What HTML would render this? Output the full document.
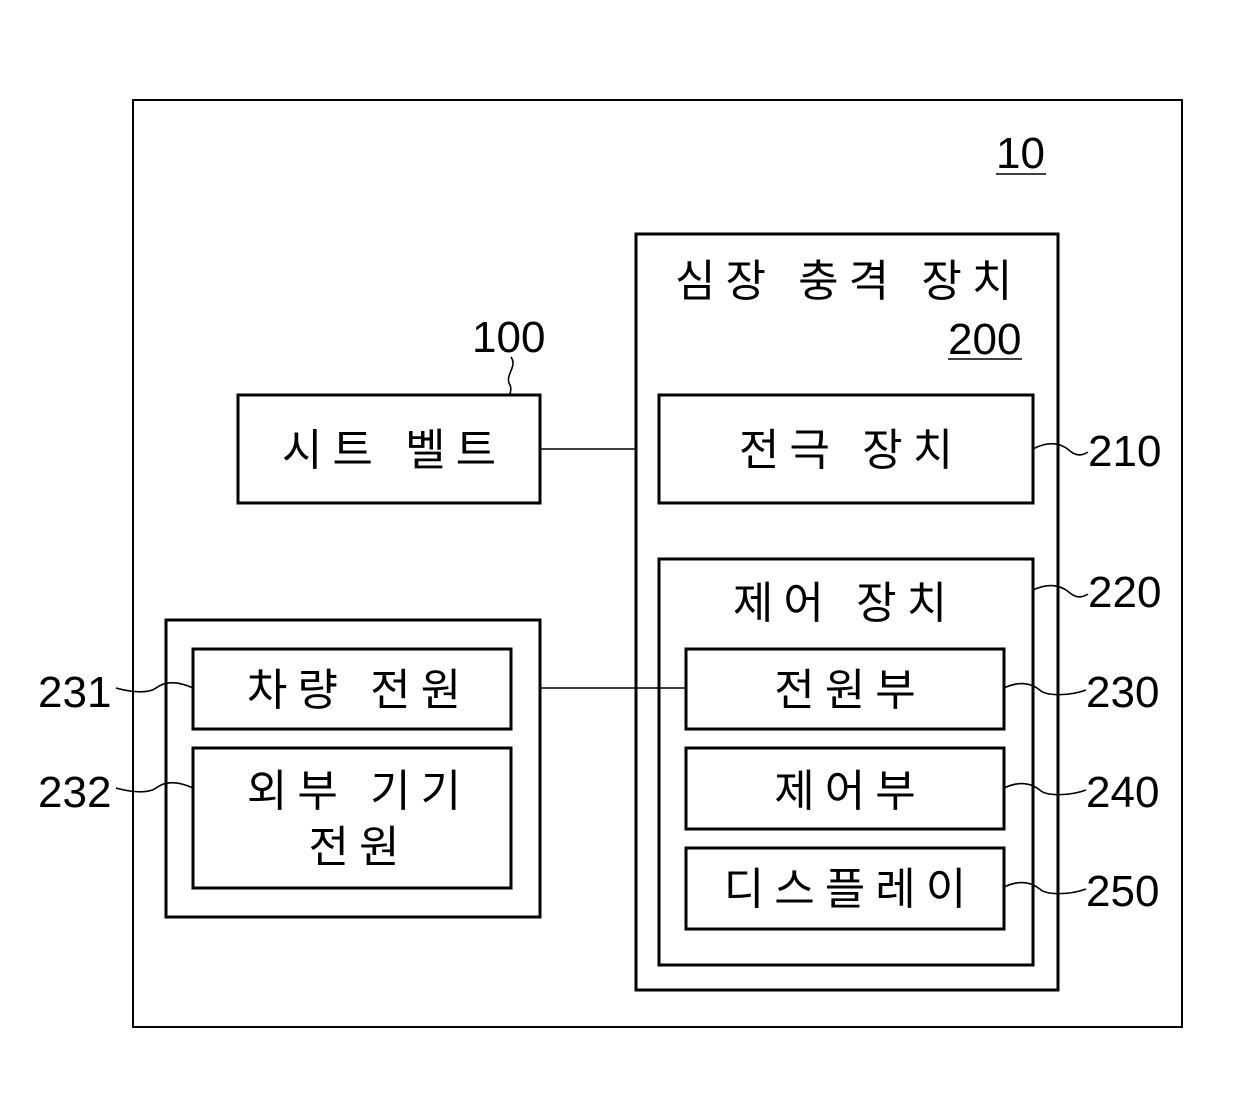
<!DOCTYPE html>
<html><head><meta charset="utf-8"><style>
html,body{margin:0;padding:0;background:#fff;}
svg{display:block;}
text{font-family:"Liberation Sans","Noto Sans CJK KR","NanumGothic",sans-serif;fill:#000;}
.k{font-size:44px;letter-spacing:10px;}
.n{font-size:44px;}
</style></head><body>
<svg width="1240" height="1099" viewBox="0 0 1240 1099" xmlns="http://www.w3.org/2000/svg">
<g fill="none" stroke="#000" stroke-width="3">
<rect x="133" y="100" width="1049" height="927" stroke-width="2"/>
<rect x="636" y="234" width="422" height="756"/>
<rect x="238" y="395" width="302" height="108"/>
<rect x="659" y="395" width="374" height="108"/>
<rect x="659" y="559" width="374" height="406"/>
<rect x="686" y="649" width="318" height="80"/>
<rect x="686" y="748" width="318" height="81"/>
<rect x="686" y="848" width="318" height="81"/>
<rect x="166" y="620" width="374" height="297"/>
<rect x="193" y="649" width="318" height="80"/>
<rect x="193" y="748" width="318" height="140"/>
</g>
<g fill="none" stroke="#000" stroke-width="1.6">
<line x1="540" y1="449" x2="636" y2="449"/>
<line x1="540" y1="688" x2="686" y2="688"/>
<line x1="996" y1="174" x2="1046" y2="174"/>
<line x1="948" y1="359" x2="1022" y2="359"/>
<path d="M511,357 C518,367 504,375 510,385 C512,389 510,392 510,395"/>
<path d="M1033,449 C1050,440 1062,444 1070,451 C1076,456 1082,456 1088,452"/>
<path d="M1033,590 C1050,582 1062,586 1070,593 C1076,598 1082,598 1088,594"/>
<path d="M1004,688 C1021,680 1033,684 1041,691 C1048,696 1070,696 1086,690"/>
<path d="M1004,788 C1021,780 1033,784 1041,791 C1048,796 1070,796 1086,790"/>
<path d="M1004,887 C1021,879 1033,883 1041,890 C1048,895 1070,895 1086,889"/>
<path d="M193,688 C176,680 164,682 156,688 C148,694 130,692 116,688"/>
<path d="M193,788 C176,780 164,782 156,788 C148,794 130,792 116,788"/>
</g>
<text class="n" x="996" y="168">10</text>
<text class="k" x="675" y="296">심장 충격 장치</text>
<text class="n" x="948" y="354">200</text>
<text class="n" x="472" y="352">100</text>
<text class="k" x="394" y="465" text-anchor="middle">시트 벨트</text>
<text class="k" x="851" y="465" text-anchor="middle">전극 장치</text>
<text class="n" x="1088" y="466">210</text>
<text class="k" x="845" y="618" text-anchor="middle">제어 장치</text>
<text class="n" x="1088" y="607">220</text>
<text class="k" x="850" y="705" text-anchor="middle">전원부</text>
<text class="n" x="1086" y="707">230</text>
<text class="k" x="850" y="806" text-anchor="middle">제어부</text>
<text class="n" x="1086" y="807">240</text>
<text class="k" x="850" y="904" text-anchor="middle">디스플레이</text>
<text class="n" x="1086" y="906">250</text>
<text class="k" x="359" y="705" text-anchor="middle">차량 전원</text>
<text class="k" x="359" y="806" text-anchor="middle">외부 기기</text>
<text class="k" x="359" y="862" text-anchor="middle">전원</text>
<text class="n" x="38" y="707">231</text>
<text class="n" x="38" y="807">232</text>
</svg>
</body></html>
